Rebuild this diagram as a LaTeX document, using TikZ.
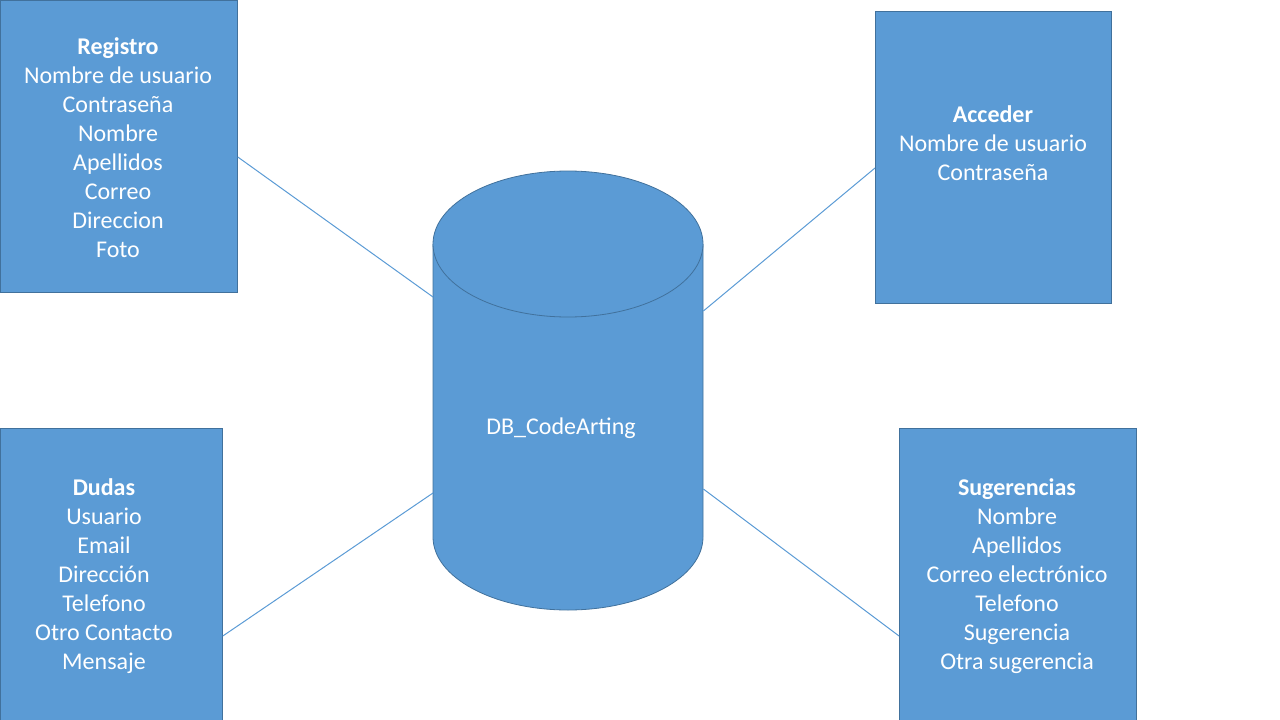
\documentclass[tikz,border=0pt]{standalone}
\usepackage{fontspec}
\setmainfont{Carlito}
\usetikzlibrary{calc}
\definecolor{boxfill}{HTML}{5B9BD5}
\definecolor{boxline}{HTML}{41719C}
\tikzset{
  entbox/.style={draw=boxline, fill=boxfill, line width=0.8pt, rectangle, inner sep=0pt, anchor=north west},
  enttext/.style={text=white, align=center, font=\fontsize{24}{29}\selectfont, inner sep=0pt},
  link/.style={draw=boxfill, line width=1pt}
}
\begin{document}
\begin{tikzpicture}[x=1pt,y=-1pt]
\useasboundingbox (0,0) rectangle (1280,720);
\clip (0,0) rectangle (1280,720);
% boxes
\node[entbox, minimum width=237, minimum height=292] (reg) at (0,0) {};
\node[entbox, minimum width=236, minimum height=292] (acc) at (875,11) {};
\node[entbox, minimum width=222, minimum height=300] (dud) at (0,428) {};
\node[entbox, minimum width=237, minimum height=300] (sug) at (899,428) {};
% cylinder
\fill[boxfill] (433,244) -- (433,537) arc[start angle=180, end angle=360, x radius=135, y radius=-73] -- (703,244) -- cycle;
\draw[boxline, line width=0.8pt] (433,244) -- (433,537) arc[start angle=180, end angle=360, x radius=135, y radius=-73] -- (703,244);
\draw[boxline, fill=boxfill, line width=0.8pt] (568,244) ellipse[x radius=135, y radius=73];
\node[inner sep=0pt, minimum width=270, minimum height=439, anchor=north west] (db) at (433,171) {};
\node[enttext] (dbl) at (561,428) {DB\_CodeArting};
% texts
\node[enttext] (regt) at (118,148) {\textbf{Registro}\\Nombre de usuario\\Contraseña\\Nombre\\Apellidos\\Correo\\Direccion\\Foto};
\node[enttext] (acct) at (993,143) {\textbf{Acceder}\\Nombre de usuario\\Contraseña};
\node[enttext] (dudt) at (104,576) {\textbf{Dudas}\\Usuario\\Email\\Dirección\\Telefono\\Otro Contacto\\Mensaje};
\node[enttext] (sugt) at (1017,576) {\textbf{Sugerencias}\\Nombre\\Apellidos\\Correo electrónico\\Telefono\\Sugerencia\\Otra sugerencia};
% connectors
\draw[link] ($(reg.north east)+(0,157)$) -- ($(db.north west)+(0,126)$);
\draw[link] ($(acc.north west)+(0,157)$) -- ($(db.north east)+(0,140)$);
\draw[link] ($(dud.north east)+(0,208)$) -- ($(db.north west)+(0,322)$);
\draw[link] ($(sug.north west)+(0,208)$) -- ($(db.north east)+(0,318)$);
\end{tikzpicture}
\end{document}
